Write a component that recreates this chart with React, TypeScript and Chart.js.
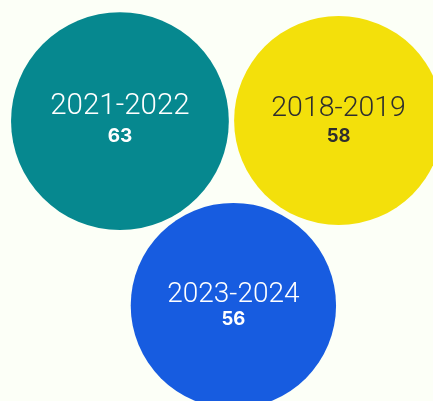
import React, { useEffect, useRef } from "react";
import { Chart, registerables } from "chart.js";

Chart.register(...registerables);

const categories = ["2021-2022", "2018-2019", "2023-2024"];
const values = [63, 58, 56];
const xPositions = [27.7, 78.2, 53.9];
const yPositions = [69.8, 69.95, 23.8];
const fillColors = ["#06888f", "#f3e00b", "#175ce0"];
const textColors = ["#ffffff", "#2e2e2e", "#ffffff"];
const labelSizes = [29.5, 28.5, 28];
const valueSizes = [19, 18.5, 18.5];
const labelBaselineOffsets = [-7, -4.5, -4];
const valueBaselineOffsets = [21.3, 21.5, 19.5];

const labelPlugin = {
  id: "bubbleLabels",
  afterDatasetsDraw(chart: any) {
    const ctx = chart.ctx;
    const meta = chart.getDatasetMeta(0);
    meta.data.forEach((el: any, i: number) => {
      const { x, y } = el.getProps(["x", "y"], true);
      ctx.save();
      ctx.fillStyle = textColors[i];
      ctx.textAlign = "center";
      ctx.textBaseline = "alphabetic";
      ctx.font = `300 ${labelSizes[i]}px Roboto`;
      ctx.fillText(categories[i], x, y + labelBaselineOffsets[i]);
      ctx.font = `700 ${valueSizes[i]}px Inter`;
      ctx.fillText(String(values[i]), x, y + valueBaselineOffsets[i]);
      ctx.restore();
    });
  },
};

export default function App() {
  const canvasRef = useRef<HTMLCanvasElement | null>(null);

  useEffect(() => {
    document.body.style.margin = "0";
    document.body.style.background = "#fcfff7";
    const canvas = canvasRef.current;
    if (!canvas) return;
    const chart = new Chart(canvas, {
      type: "bubble",
      data: {
        labels: categories,
        datasets: [
          {
            data: values.map((v, i) => ({ x: xPositions[i], y: yPositions[i], r: 13.72 * Math.sqrt(v) })),
            backgroundColor: fillColors,
            borderWidth: 0,
            hoverBorderWidth: 0,
            hoverRadius: 0,
            clip: false,
          } as any,
        ],
      },
      options: {
        responsive: false,
        animation: false,
        layout: { padding: 0, autoPadding: false },
        plugins: {
          legend: { display: false },
          tooltip: { enabled: false },
        },
        events: [],
        scales: {
          x: { display: false, min: 0, max: 100 },
          y: { display: false, min: 0, max: 100 },
        },
      } as any,
      plugins: [labelPlugin],
    });
    return () => chart.destroy();
  }, []);

  return (
    <div style={{ width: 433, height: 401, background: "#fcfff7", overflow: "hidden" }}>
      <canvas ref={canvasRef} width={433} height={401} style={{ display: "block" }} />
    </div>
  );
}
